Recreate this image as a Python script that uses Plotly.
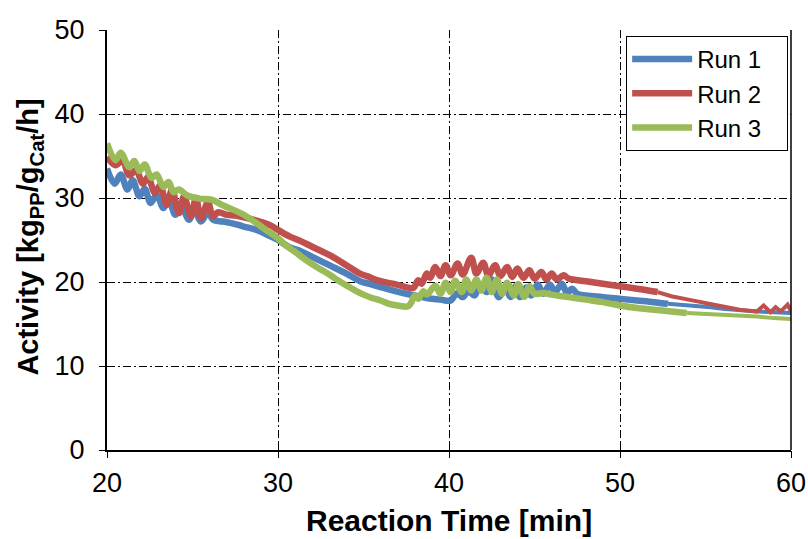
import plotly.graph_objects as go

# ---------------- data ----------------
run1_x = [20.0, 20.45, 20.8, 21.2, 21.5, 21.9, 22.2, 22.55, 22.9, 23.3, 23.6, 24.0, 24.3, 24.8, 25.1, 25.5, 25.9,
          26.2, 26.8, 27.5, 28.0, 28.75, 29.5, 30.0, 30.7, 31.3, 32.0, 33.0, 34.0, 34.8, 35.5, 36.0, 36.7, 37.5,
          38.0, 38.7, 39.5, 40.1, 40.45, 40.8, 41.13, 41.5, 41.8, 42.2, 42.5, 42.9, 43.3, 43.6, 43.9, 44.15, 44.5,
          44.8, 45.2, 45.5, 45.9, 46.2, 46.6, 46.9, 47.2, 47.5, 48.0, 49.0, 50.0, 51.0, 52.0, 52.8]
run1_y = [33.5, 31.7, 32.8, 31.0, 32.1, 30.2, 31.1, 29.4, 30.4, 28.8, 29.8, 28.0, 29.2, 27.4, 28.6, 27.2, 28.3,
          27.4, 27.2, 26.9, 26.6, 26.2, 25.5, 25.0, 24.1, 23.7, 23.0, 22.0, 21.0, 20.1, 19.7, 19.4, 19.0, 18.6,
          18.4, 18.1, 17.9, 17.8, 18.65, 18.2, 18.9, 18.4, 19.7, 18.8, 20.3, 18.2, 19.35, 18.2, 19.5, 18.2, 19.35,
          18.4, 19.7, 18.6, 19.7, 18.8, 19.8, 18.7, 19.2, 18.6, 18.4, 18.2, 18.0, 17.8, 17.6, 17.4]
run1_tail_x = [52.8, 53.5, 54.5, 55.3, 56.0, 57.0, 58.0, 59.0, 60.0]
run1_tail_y = [17.4, 17.3, 17.1, 17.0, 16.8, 16.6, 16.5, 16.4, 16.3]

run2_x = [20.0, 20.5, 20.9, 21.3, 21.7, 22.1, 22.4, 22.8, 23.1, 23.5, 23.8, 24.2, 24.5, 24.9, 25.2, 25.5, 25.9,
          26.2, 26.5, 27.0, 27.5, 28.0, 28.75, 29.5, 30.0, 30.7, 31.3, 32.0, 33.2, 34.0, 34.8, 35.2, 36.0, 36.7,
          37.1, 37.9, 38.2, 38.4, 38.7, 38.9, 39.2, 39.5, 39.8, 40.1, 40.5, 40.8, 41.3, 41.6, 42.0, 42.3, 42.7,
          43.0, 43.4, 43.7, 44.0, 44.35, 44.7, 45.0, 45.4, 45.7, 46.0, 46.3, 46.7, 47.0, 48.0, 49.0, 50.0, 51.0, 52.2]
run2_y = [34.9, 33.9, 34.5, 32.7, 33.3, 31.7, 32.5, 30.6, 31.5, 29.2, 31.0, 28.2, 30.2, 27.8, 30.0, 27.6, 29.5,
          27.8, 28.3, 28.0, 27.9, 27.7, 27.3, 26.8, 26.2, 25.4, 24.9, 24.2, 23.0, 22.0, 21.0, 20.7, 20.1, 19.8,
          19.6, 19.3, 20.2, 19.8, 21.0, 20.5, 21.8, 20.7, 22.0, 20.8, 22.2, 20.9, 22.9, 21.0, 22.3, 20.8, 22.0,
          20.7, 21.8, 20.6, 21.6, 20.5, 21.4, 20.4, 21.2, 20.3, 21.0, 20.3, 20.8, 20.4, 20.1, 19.8, 19.5, 19.2, 18.8]
run2_tail_x = [52.2, 53.0, 54.0, 55.0, 56.0, 57.0, 58.0, 58.4, 58.8, 59.1, 59.4, 59.8, 60.0]
run2_tail_y = [18.8, 18.3, 17.9, 17.5, 17.1, 16.7, 16.5, 17.2, 16.4, 17.0, 16.5, 17.3, 16.5]

run3_x = [20.0, 20.5, 20.8, 21.3, 21.6, 21.9, 22.2, 22.6, 22.9, 23.3, 23.6, 23.9, 24.2, 24.7, 25.5, 26.1, 26.8,
          27.5, 28.0, 28.75, 29.5, 30.0, 30.5, 31.0, 31.5, 32.0, 32.5, 33.0, 33.5, 34.0, 34.5, 35.0, 35.5, 36.0,
          36.5, 37.0, 37.6, 37.8, 38.0, 38.2, 38.5, 38.7, 39.2, 39.5, 39.8, 40.1, 40.35, 40.75, 41.0, 41.3, 41.6,
          41.9, 42.2, 42.5, 42.8, 43.1, 43.4, 43.8, 44.05, 44.4, 44.7, 45.0, 45.5, 46.0, 47.0, 48.0, 49.0, 50.0,
          51.0, 52.0, 53.0, 53.9]
run3_y = [36.5, 34.5, 35.4, 33.7, 34.4, 33.2, 34.0, 32.4, 32.8, 31.3, 31.9, 30.7, 31.0, 30.3, 29.9, 29.8, 29.1,
          28.5, 28.0, 27.0, 25.9, 25.2, 24.3, 23.6, 22.8, 22.1, 21.5, 20.9, 20.2, 19.6, 19.0, 18.5, 18.1, 17.8,
          17.4, 17.2, 17.1, 17.6, 18.4, 18.0, 18.9, 18.5, 19.55, 18.6, 19.9, 18.8, 20.15, 18.8, 20.3, 19.0, 20.3,
          19.0, 20.5, 18.8, 20.3, 18.6, 19.9, 18.4, 19.75, 18.25, 19.5, 18.6, 18.7, 18.5, 18.2, 17.9, 17.6, 17.2,
          16.9, 16.7, 16.5, 16.3]
run3_tail_x = [53.9, 55.0, 56.0, 57.0, 58.0, 59.0, 60.0]
run3_tail_y = [16.3, 16.2, 16.1, 16.0, 15.9, 15.7, 15.6]

series_names = ["Run 1", "Run 2", "Run 3"]
colors = ["#4F81BD", "#C0504D", "#9BBB59"]

x_ticks = [20, 30, 40, 50, 60]
y_ticks = [0, 10, 20, 30, 40, 50]
x_title = "<b>Reaction Time [min]</b>"
y_title = "<b>Activity [kg<sub>PP</sub>/g<sub>Cat</sub>/h]</b>"

FONT = "Liberation Sans, Arial, sans-serif"
GRID_DASH = "8px,3px,2px,3px"
LEGEND_PAD = "\u00a0\u00a0\u00a0"  # right-hand padding inside the legend box

fig = go.Figure()

mains = [(run1_x, run1_y), (run2_x, run2_y), (run3_x, run3_y)]
tails = [(run1_tail_x, run1_tail_y), (run2_tail_x, run2_tail_y), (run3_tail_x, run3_tail_y)]

for i in range(3):
    fig.add_trace(go.Scatter(x=tails[i][0], y=tails[i][1], mode="lines", name=series_names[i],
                             legendgroup=series_names[i], showlegend=False,
                             line=dict(color=colors[i], width=4)))
    fig.add_trace(go.Scatter(x=mains[i][0], y=mains[i][1], mode="lines", name=series_names[i] + LEGEND_PAD,
                             legendgroup=series_names[i], showlegend=True,
                             line=dict(color=colors[i], width=6.5, shape="spline", smoothing=1.0)))

# empty helper trace for the outer half of the crossing tick marks
fig.add_trace(go.Scatter(x=[], y=[], xaxis="x2", yaxis="y2", showlegend=False, hoverinfo="skip"))

axis_common = dict(showline=True, linecolor="black", linewidth=2, ticks="inside", ticklen=7,
                   tickcolor="black", tickwidth=1, showgrid=True, gridcolor="black", gridwidth=1,
                   griddash=GRID_DASH, zeroline=False, automargin=False,
                   tickfont=dict(family=FONT, size=27, color="black"))

fig.update_layout(
    width=808, height=539,
    margin=dict(l=107, r=17, t=30, b=89, autoexpand=False),
    paper_bgcolor="white", plot_bgcolor="white",
    font=dict(family=FONT, color="black"),
    xaxis=dict(range=[20, 60], tickvals=x_ticks, ticklabelstandoff=8, **axis_common),
    yaxis=dict(range=[0, 50], tickvals=y_ticks, ticklabelstandoff=15, **axis_common),
    xaxis2=dict(overlaying="x", anchor="y2", range=[20, 60], tickvals=x_ticks, ticks="outside", ticklen=7,
                tickcolor="black", showticklabels=False, showgrid=False, showline=False, zeroline=False),
    yaxis2=dict(overlaying="y", anchor="x2", range=[0, 50], tickvals=y_ticks, ticks="outside", ticklen=7,
                tickcolor="black", showticklabels=False, showgrid=False, showline=False, zeroline=False),
    legend=dict(x=0.759, y=0.986, xanchor="left", yanchor="top", bgcolor="white",
                bordercolor="black", borderwidth=1, font=dict(family=FONT, size=24, color="black"),
                itemwidth=60, tracegroupgap=0),
    shapes=[dict(type="line", xref="paper", yref="paper", x0=1, x1=1, y0=0, y1=1,
                 line=dict(color="black", width=1.5))],
    annotations=[
        dict(text=x_title, xref="paper", yref="paper", x=0.5, y=-0.2119, xanchor="center", yanchor="bottom",
             showarrow=False, font=dict(family=FONT, size=30, color="black")),
        dict(text=y_title, xref="paper", yref="paper", x=-0.1126, y=0.508, xanchor="center", yanchor="middle",
             textangle=-90, showarrow=False, font=dict(family=FONT, size=29, color="black")),
    ],
)

fig.write_html("out.html", config={"displayModeBar": False},
               post_script="document.body.style.margin='0';document.body.style.overflow='hidden';")
